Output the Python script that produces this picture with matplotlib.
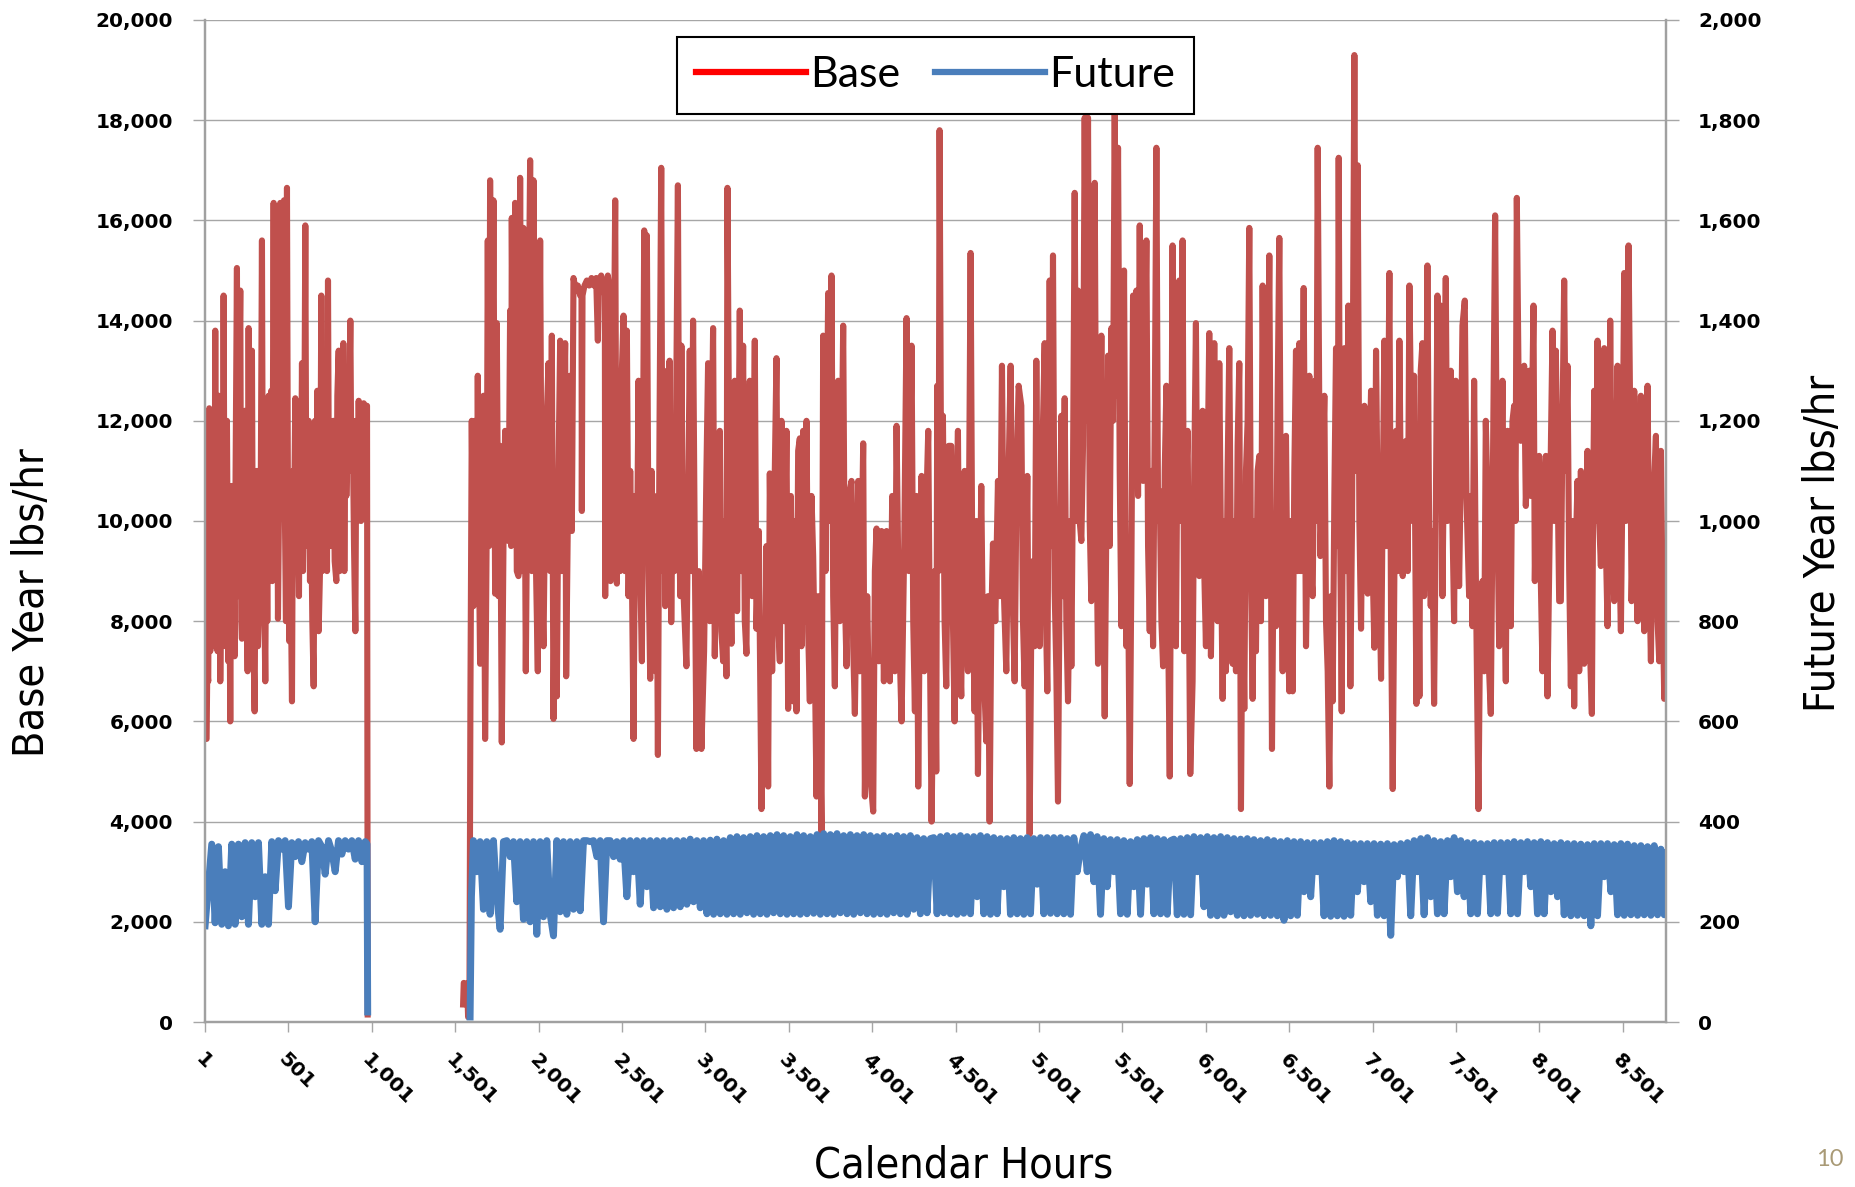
import matplotlib
matplotlib.use('Agg')
import matplotlib.pyplot as plt
from matplotlib.lines import Line2D
from matplotlib.ticker import FuncFormatter
from matplotlib import font_manager
import numpy as np

# Base year steam use (lbs/hr) as (hour, value) pairs
base_jan_feb = [(1, 6800), (4, 5650), (10, 5650), (14, 7000), (20, 6800), (26, 12250), (32, 7400), (38, 12000),
    (44, 8000), (50, 9500), (56, 7500), (62, 13800), (68, 8500), (76, 7400), (84, 12500), (92, 6800),
    (100, 9500), (106, 8000), (112, 14500), (118, 9000), (124, 7500), (132, 12000), (140, 7200), (146, 9500),
    (152, 6000), (158, 10000), (162, 10700), (166, 7500), (172, 9000), (178, 7300), (184, 11000), (192, 15050),
    (198, 8500), (204, 12000), (212, 14600), (218, 8000), (222, 7650), (230, 10500), (238, 12200), (244, 8500),
    (250, 9000), (256, 7000), (262, 13850), (268, 9000), (276, 7300), (282, 13400), (288, 8200), (298, 6200),
    (304, 10000), (312, 11000), (318, 7500), (326, 8500), (334, 10000), (342, 15600), (348, 9000), (356, 8500),
    (362, 6800), (368, 10500), (374, 8000), (382, 12500), (392, 9500), (398, 12600), (404, 8800), (412, 16350),
    (418, 9500), (424, 10500), (432, 13500), (438, 8050), (446, 11000), (452, 16350), (458, 10500), (466, 12000),
    (474, 16400), (480, 10000), (486, 8000), (492, 16650), (498, 10000), (506, 7600), (514, 9000), (522, 6400),
    (528, 11000), (536, 10500), (542, 12450), (548, 9000), (556, 10200), (564, 8500), (570, 12000), (576, 10500),
    (582, 13150), (588, 9000), (596, 11500), (602, 15900), (608, 10000), (616, 9500), (622, 12000), (630, 8800),
    (636, 10500), (644, 8000), (652, 6700), (660, 12000), (666, 8500), (674, 12600), (682, 7800), (690, 9000),
    (698, 14500), (704, 9000), (710, 12000), (718, 10000), (726, 12500), (732, 9000), (738, 14800), (744, 10000),
    (750, 12000), (756, 9500), (762, 10000), (770, 12000), (778, 9200), (788, 8800), (794, 12500), (802, 13400),
    (808, 9000), (814, 11500), (822, 10500), (830, 13550), (836, 9000), (842, 12000), (848, 10500), (856, 11500),
    (864, 12000), (872, 14000), (878, 11000), (886, 12000), (894, 9500), (902, 7800), (908, 12000), (914, 10000),
    (922, 12400), (930, 10500), (936, 10000), (944, 12200), (952, 12350), (958, 10050), (966, 12300), (972, 12300),
    (976, 150)]

base_mar_apr = [(1548, 350), (1552, 780), (1572, 760), (1578, 100), (1586, 300), (1592, 6500),
    (1600, 12000), (1610, 8300), (1620, 12000), (1630, 9000), (1636, 12900), (1644, 9000), (1650, 7150),
    (1660, 11000), (1670, 12500), (1680, 5650), (1690, 10000), (1696, 15600), (1704, 9500), (1710, 16800),
    (1720, 10000), (1730, 16400), (1740, 8550), (1750, 13950), (1760, 8500), (1770, 11500), (1780, 5580),
    (1790, 9500), (1800, 11800), (1820, 9600), (1830, 14200), (1836, 9500), (1840, 16050), (1850, 10000),
    (1860, 16350), (1870, 9000), (1880, 8900), (1890, 16850), (1900, 9000), (1910, 15850), (1924, 7000),
    (1936, 12000), (1950, 17200), (1960, 9000), (1970, 16800), (1980, 10000), (1996, 7000), (2010, 15600),
    (2020, 9000), (2030, 7500), (2044, 11500), (2060, 13150), (2070, 9000), (2080, 13700), (2090, 6050),
    (2100, 10000), (2110, 6500), (2120, 11000), (2130, 13600), (2140, 9000), (2150, 11500), (2160, 13550),
    (2166, 6900), (2176, 10000), (2190, 12900), (2200, 9800), (2210, 14850), (2224, 14600), (2236, 14700),
    (2250, 14500), (2258, 14600), (2260, 10200), (2264, 14500), (2276, 14700), (2290, 14800), (2304, 14700),
    (2318, 14850), (2332, 14700), (2346, 14850), (2356, 13600), (2362, 14800), (2376, 14900), (2390, 14700),
    (2398, 14500), (2400, 8500), (2404, 14000), (2416, 14900), (2428, 14600), (2432, 8800), (2438, 14300),
    (2446, 10000), (2452, 13000), (2460, 16400), (2466, 11000), (2470, 8750), (2480, 12500), (2490, 9000),
    (2500, 13000), (2510, 14100), (2518, 9000), (2530, 13800), (2540, 8500), (2550, 11000), (2560, 9000),
    (2570, 5650), (2580, 10500), (2590, 9000), (2600, 12800), (2610, 9000), (2620, 7200), (2628, 12000),
    (2634, 15800), (2642, 11000), (2650, 15700), (2660, 9000), (2670, 6850), (2678, 11000), (2686, 8000),
    (2694, 10500), (2702, 7000), (2710, 9000), (2716, 5330), (2726, 12000), (2736, 17050), (2744, 9000),
    (2752, 13000), (2760, 8300), (2768, 11500), (2778, 9000), (2786, 13200), (2796, 7980), (2806, 11000),
    (2816, 9000), (2826, 12500), (2836, 16700), (2844, 10000), (2850, 8500)]

base_may_jun = [(2857, 13500), (2867, 8800), (2887, 7100), (2907, 13400), (2917, 9000), (2927, 14000),
    (2937, 9500), (2947, 5450), (2961, 9000), (2977, 5450), (2993, 7400), (3007, 11000), (3017, 13150),
    (3027, 8000), (3047, 13850), (3057, 7300), (3073, 10500), (3087, 11800), (3097, 7800), (3107, 7200),
    (3117, 10000), (3127, 6900), (3133, 16650), (3147, 9500), (3157, 7550), (3167, 11000), (3177, 12800),
    (3191, 8200), (3207, 14200), (3217, 9000), (3227, 13500), (3237, 8000), (3247, 7350), (3257, 11500),
    (3267, 12800), (3281, 8500), (3297, 13600), (3307, 7850), (3321, 9800), (3337, 4250), (3347, 8000),
    (3357, 6300), (3367, 9500), (3377, 4700), (3387, 10950), (3401, 7000), (3417, 11000), (3427, 13250),
    (3437, 8000), (3447, 7200), (3457, 12000), (3473, 8000), (3487, 11800), (3497, 6250), (3513, 10500),
    (3527, 6400), (3537, 10000), (3547, 6200), (3557, 11400), (3567, 11650), (3577, 7500), (3587, 11800),
    (3597, 8000), (3607, 12000), (3617, 7800), (3627, 6400), (3637, 10500), (3647, 9300), (3657, 7200),
    (3667, 4500), (3677, 8500), (3697, 3800), (3707, 13700), (3721, 9000), (3737, 14550), (3747, 10000),
    (3757, 14900), (3767, 8500), (3777, 6700), (3787, 11000), (3797, 12800), (3807, 8000), (3827, 13900),
    (3837, 8500), (3847, 7100), (3861, 10500), (3877, 10800), (3887, 7500), (3897, 6150), (3917, 10800),
    (3927, 7000), (3947, 11550), (3957, 4500), (3971, 8500), (3987, 5000), (4007, 4200), (4017, 9000),
    (4027, 9850), (4041, 7200), (4057, 9800), (4071, 6800), (4087, 9800), (4097, 7500), (4107, 6800),
    (4121, 10500), (4137, 7000), (4147, 11900), (4161, 8000), (4177, 6000), (4193, 9500), (4207, 14050),
    (4221, 9000), (4237, 13500), (4247, 8000), (4257, 6200), (4267, 10500), (4277, 4700), (4287, 8500),
    (4297, 10900), (4313, 7000), (4327, 10500), (4337, 11800), (4347, 7500), (4357, 4000)]

base_jul_aug = [(4375, 9000), (4385, 5000), (4391, 12700), (4399, 9000), (4405, 17800), (4415, 10000),
    (4425, 12100), (4435, 8000), (4445, 6700), (4459, 11500), (4475, 11500), (4485, 8000), (4495, 6000),
    (4505, 10000), (4515, 11800), (4525, 7500), (4535, 6500), (4545, 10500), (4555, 11000), (4565, 7800),
    (4575, 7000), (4591, 15350), (4601, 9000), (4615, 6200), (4625, 10000), (4635, 4950), (4645, 8000),
    (4655, 10700), (4665, 7500), (4685, 5600), (4695, 8500), (4705, 4000), (4715, 8000), (4725, 9550),
    (4739, 8000), (4755, 10800), (4767, 8500), (4779, 13100), (4791, 8500), (4805, 7000), (4819, 11000),
    (4831, 13100), (4843, 8500), (4855, 6800), (4867, 11000), (4879, 12700), (4895, 12300), (4905, 8000),
    (4915, 6700), (4931, 10900), (4945, 3750), (4955, 8000), (4965, 9200), (4975, 7500), (4985, 13200),
    (4995, 9000), (5005, 7500), (5019, 11000), (5035, 13550), (5043, 8000), (5051, 6600), (5065, 14800),
    (5075, 9500), (5085, 15300), (5095, 8600), (5105, 7000), (5115, 4400), (5125, 9000), (5135, 12100),
    (5145, 8500), (5155, 12450), (5165, 8000), (5175, 6400), (5189, 10000), (5195, 7100), (5205, 11000),
    (5215, 16550), (5225, 10000), (5235, 14600), (5245, 10000), (5255, 9600), (5265, 11500), (5275, 18050),
    (5285, 12000), (5295, 18050), (5305, 10000), (5315, 8400), (5325, 11500), (5335, 16750), (5345, 10000),
    (5355, 7150), (5365, 10500), (5375, 13700), (5385, 9000), (5395, 6100), (5405, 10000), (5415, 13300),
    (5425, 9500), (5435, 13850), (5445, 12000), (5455, 18400), (5465, 12500), (5475, 17450), (5485, 11000),
    (5495, 7900), (5503, 12000), (5511, 15000), (5519, 10000), (5525, 7500), (5535, 9000), (5545, 4750),
    (5555, 9000), (5565, 14500), (5575, 11000), (5585, 14600), (5595, 10500), (5605, 15900), (5615, 11000),
    (5625, 10800), (5635, 13000), (5645, 15600), (5655, 9500), (5665, 7800), (5675, 11000), (5685, 7500),
    (5695, 12000), (5705, 17450), (5715, 10000), (5725, 10600), (5735, 8000), (5745, 7100), (5755, 11000),
    (5765, 12700), (5775, 8000), (5785, 4900)]

base_sep_oct = [(5802, 15500), (5812, 9000), (5822, 7500), (5832, 12000), (5842, 14800), (5852, 10000),
    (5862, 15600), (5872, 7400), (5882, 10500), (5892, 11800), (5908, 4950), (5922, 6800), (5932, 11000),
    (5942, 13950), (5952, 9000), (5962, 8900), (5972, 11500), (5982, 12200), (5992, 9000), (6002, 7500),
    (6012, 11000), (6022, 13750), (6032, 7300), (6042, 10000), (6052, 13550), (6062, 9000), (6072, 8000),
    (6082, 13150), (6092, 9500), (6102, 6450), (6112, 10000), (6122, 7000), (6132, 11000), (6142, 13450),
    (6152, 9000), (6162, 7150), (6172, 10000), (6182, 7000), (6192, 11500), (6202, 13150), (6212, 4250),
    (6222, 9000), (6232, 6250), (6242, 11000), (6252, 12000), (6262, 15850), (6272, 9000), (6282, 6450),
    (6292, 10000), (6302, 7400), (6312, 11000), (6322, 11300), (6332, 8000), (6342, 14700), (6352, 10000),
    (6362, 8500), (6372, 12000), (6382, 15300), (6392, 9000), (6398, 5450), (6408, 9500), (6422, 7900),
    (6432, 12500), (6442, 15650), (6452, 9500), (6462, 7000), (6472, 10500), (6482, 11700), (6492, 8000),
    (6502, 6600), (6512, 10000), (6522, 6600), (6532, 11000), (6542, 13400), (6552, 9000), (6562, 13550),
    (6572, 9000), (6588, 14650), (6602, 7500), (6612, 10000), (6622, 12900), (6632, 9000), (6642, 8500),
    (6652, 12000), (6656, 12800), (6664, 10000), (6672, 17450), (6682, 12000), (6688, 9300), (6702, 11000),
    (6712, 12500), (6722, 8000), (6732, 7000), (6742, 4700), (6752, 8500), (6762, 6400), (6772, 10500),
    (6782, 13450), (6792, 9500), (6798, 17250), (6806, 10000), (6816, 6200), (6824, 11000), (6832, 13450),
    (6842, 9000), (6856, 14300), (6862, 9000), (6868, 6700), (6878, 10000), (6892, 19300), (6902, 11000),
    (6912, 17100), (6922, 10000), (6932, 7850), (6942, 11000), (6952, 12300), (6962, 9000), (6972, 8550),
    (6982, 11000), (6992, 12600), (7002, 9000), (7012, 7470), (7022, 13400), (7032, 10000), (7042, 9000),
    (7052, 6850), (7062, 10500), (7072, 13600), (7082, 9500), (7092, 11000), (7102, 14950), (7112, 8000),
    (7122, 4650), (7132, 9000), (7142, 11800), (7152, 9000), (7162, 13600), (7172, 10000), (7182, 8900),
    (7192, 11000), (7202, 11600), (7212, 9000), (7222, 14700)]

base_nov_dec = [(7240, 10000), (7250, 12900), (7264, 6350), (7274, 10000), (7282, 6500), (7290, 13000),
    (7300, 13550), (7310, 8500), (7320, 10000), (7330, 15100), (7340, 10000), (7350, 8300), (7360, 9800),
    (7370, 6350), (7380, 10000), (7390, 14500), (7400, 11500), (7410, 14300), (7420, 8500), (7430, 11500),
    (7440, 14850), (7450, 10000), (7460, 11000), (7470, 13000), (7480, 10000), (7490, 8000), (7500, 12800),
    (7510, 11000), (7520, 8700), (7530, 11000), (7540, 13900), (7554, 14400), (7564, 10500), (7580, 8500),
    (7590, 10500), (7600, 7900), (7610, 12800), (7620, 9000), (7630, 6000), (7636, 4250), (7646, 8000),
    (7660, 8800), (7670, 7000), (7680, 12000), (7690, 10500), (7700, 7000), (7710, 6150), (7720, 10000),
    (7736, 16100), (7746, 11000), (7760, 7500), (7770, 10000), (7780, 12800), (7790, 9000), (7800, 6800),
    (7810, 11800), (7820, 9500), (7830, 7900), (7840, 12000), (7850, 12300), (7858, 10000), (7866, 16450),
    (7876, 13000), (7890, 11600), (7900, 12500), (7910, 13100), (7920, 10300), (7930, 11500), (7940, 13000),
    (7950, 10500), (7966, 14300), (7974, 8800), (7984, 11000), (8000, 11300), (8010, 8800), (8020, 7000),
    (8030, 10500), (8040, 11300), (8050, 6500), (8064, 10000), (8080, 13800), (8090, 10000), (8100, 13400),
    (8110, 11000), (8120, 8400), (8130, 8400), (8140, 12000), (8150, 14800), (8160, 11000), (8170, 13100),
    (8180, 9000), (8190, 6700), (8200, 10000), (8210, 6300), (8220, 9500), (8230, 10800), (8240, 7000),
    (8250, 11000), (8260, 8000), (8270, 7150), (8280, 10000), (8290, 11400), (8300, 8000), (8310, 6800),
    (8316, 6150), (8324, 10500), (8330, 12600), (8340, 10000), (8350, 13600), (8360, 10000), (8370, 9100),
    (8380, 11000), (8390, 13450), (8400, 9500), (8410, 7900), (8420, 11000), (8426, 14000), (8436, 10000),
    (8450, 8400), (8460, 11000), (8470, 13100), (8480, 9500), (8490, 7800), (8500, 11000), (8510, 14950),
    (8520, 10000), (8536, 15500), (8546, 12000), (8554, 8400), (8564, 10000), (8570, 12600), (8580, 9000),
    (8590, 8000), (8600, 11000), (8610, 12500), (8620, 9000), (8630, 7800), (8640, 10000), (8650, 12700),
    (8660, 9000), (8670, 7200), (8680, 10000), (8700, 11700), (8710, 8000), (8720, 7200), (8730, 11400),
    (8740, 8500), (8750, 6450), (8760, 9400)]

# Future year (lbs/hr, right axis), one reading every 20 hours from each start hour
fut_jan_start = 1
fut_jan = [192, 274, 355, 198, 350, 195, 300, 192, 355, 195,
           355, 210, 358, 195, 358, 250, 358, 195, 290, 195,
           360, 262, 362, 345, 362, 230, 358, 330, 360, 320,
           358, 345, 360, 200, 362, 350, 295, 362, 340, 300,
           362, 335, 362, 345, 362, 325, 362, 320, 360]
fut_jan_end = [(972, 355), (976, 20)]
fut_mar_lead = [(1590, 10), (1598, 250)]
fut_mar_start = 1610
fut_mar = [362, 300, 360, 225, 360, 215, 362, 250, 185, 360,
           362, 330, 360, 240, 360, 205, 360, 200, 360, 175,
           360, 210, 362, 215, 172, 362, 220, 360, 215, 360,
           225, 360, 222, 362, 362, 360, 362, 330, 362, 200,
           362, 362, 330, 360, 325, 362, 250, 362, 300, 362,
           235, 362, 270, 362, 228, 362, 230, 362, 225, 362,
           228, 362, 230, 362, 235]
fut_may_start = 2910
fut_may = [365, 240, 362, 228, 362, 216, 363, 215, 365, 216,
           362, 215, 368, 216, 370, 215, 368, 218, 370, 215,
           372, 216, 370, 215, 372, 218, 374, 216, 372, 215,
           370, 216, 374, 215, 372, 216, 370, 217, 374, 215,
           376, 216, 374, 215, 376, 218, 372, 216, 374, 215,
           372, 218, 374, 216, 372, 215, 370, 216, 372, 215,
           370, 218, 372, 216, 370, 215, 372, 225, 368, 216,
           366, 218, 366]
fut_jul_start = 4370
fut_jul = [368, 216, 370, 218, 372, 216, 370, 215, 372, 217,
           370, 216, 370, 250, 372, 216, 370, 215, 368, 216,
           366, 270, 366, 215, 368, 216, 366, 215, 368, 216,
           366, 275, 368, 216, 368, 217, 368, 216, 368, 216,
           366, 215, 368, 300, 345, 372, 300, 374, 280, 370,
           215, 366, 270, 364, 300, 364, 216, 362, 215, 360,
           270, 364, 215, 366, 275, 368, 216, 366, 216, 364,
           215, 362]
fut_sep_start = 5810
fut_sep = [365, 214, 366, 215, 368, 214, 370, 300, 368, 230,
           370, 213, 368, 212, 370, 213, 368, 220, 366, 213,
           365, 212, 366, 213, 364, 215, 362, 212, 364, 213,
           362, 212, 360, 203, 362, 212, 360, 213, 360, 260,
           358, 250, 358, 300, 358, 212, 360, 211, 362, 212,
           360, 211, 358, 213, 356, 260, 356, 280, 356, 240,
           356, 213, 355, 212, 356, 173, 354, 290, 356, 300,
           358, 212]
fut_nov_start = 7250
fut_nov = [362, 300, 366, 214, 368, 250, 362, 216, 360, 216,
           362, 290, 368, 260, 362, 250, 358, 216, 358, 216,
           356, 300, 356, 216, 358, 217, 358, 300, 358, 216,
           360, 216, 358, 300, 360, 270, 358, 216, 360, 216,
           358, 260, 356, 250, 358, 214, 356, 212, 356, 213,
           355, 212, 354, 192, 356, 212, 356, 290, 356, 260,
           354, 214, 356, 213, 355, 214, 352, 213, 352, 214,
           350, 213, 352, 214, 345, 214]
fut_nov_end = [(8760, 337)]

hour_ticks = list(range(1, 8761, 500))


def pairs(p):
    return [h for h, v in p], [v for h, v in p]


def stepped(start, vals):
    return [start + 20 * i for i in range(len(vals))], list(vals)


# base series, with a break where the data is missing
bx, by = [], []
for part in [base_jan_feb, [(1200, np.nan)], base_mar_apr, base_may_jun, base_jul_aug, base_sep_oct, base_nov_dec]:
    h, v = pairs(part)
    bx += h
    by += v

fx, fy = [], []
for h, v in [stepped(fut_jan_start, fut_jan), pairs(fut_jan_end), pairs([(1200, np.nan)]),
             pairs(fut_mar_lead), stepped(fut_mar_start, fut_mar), stepped(fut_may_start, fut_may),
             stepped(fut_jul_start, fut_jul), stepped(fut_sep_start, fut_sep),
             stepped(fut_nov_start, fut_nov), pairs(fut_nov_end)]:
    fx += h
    fy += v

# condensed face for the axis titles if one is installed
condensed = any(f.name == 'DejaVu Sans' and f.stretch == 'condensed' for f in font_manager.fontManager.ttflist)
title_font = dict(family='DejaVu Sans', stretch='condensed', fontsize=31) if condensed else dict(family='DejaVu Sans', fontsize=27.5)

RED = '#C0504D'
BLUE = '#4A7EBB'
GRID = '#A6A6A6'

fig = plt.figure(figsize=(18.55, 11.87), dpi=100)
ax = fig.add_axes([205 / 1855, 1 - 1022 / 1187, 1461 / 1855, 1002 / 1187])
ax2 = ax.twinx()

ax.plot(bx, by, color=RED, lw=4.4)
ax2.plot(fx, fy, color=BLUE, lw=5.0)

ax.set_xlim(0.5, 8760.5)
ax.set_ylim(0, 20000)
ax2.set_ylim(0, 2000)
ax.set_yticks(range(0, 20001, 2000))
ax2.set_yticks(range(0, 2001, 200))
ax.yaxis.set_major_formatter(FuncFormatter(lambda v, p: f'{int(v):,}'))
ax2.yaxis.set_major_formatter(FuncFormatter(lambda v, p: f'{int(v):,}'))
ax.set_xticks(hour_ticks)
ax.set_xticklabels([f'{t:,}' for t in hour_ticks], rotation=-45, ha='left', va='top',
                   rotation_mode='anchor', fontweight='bold', fontsize=14.5)

ax.grid(axis='y', color=GRID, lw=1)
ax.set_axisbelow(True)
for a in (ax, ax2):
    a.spines['top'].set_visible(False)
    for s in ('left', 'right', 'bottom'):
        a.spines[s].set_color('#A0A0A0')
        a.spines[s].set_linewidth(1.6)
ax.tick_params(axis='y', length=9, width=1, color=GRID, pad=14, labelsize=14.5)
ax2.tick_params(axis='y', length=9, width=1, color=GRID, pad=14, labelsize=14.5)
ax.tick_params(axis='x', length=7, width=1, color=GRID, pad=13)
for lab in ax.get_yticklabels() + ax2.get_yticklabels():
    lab.set_fontweight('bold')

fig.text(32 / 1855, 1 - 603 / 1187, 'Base Year lbs/hr', rotation=90, ha='center', va='center', **title_font)
fig.text(1823 / 1855, 1 - 543 / 1187, 'Future Year lbs/hr', rotation=90, ha='center', va='center', **title_font)
fig.text(964 / 1855, 1 - 1166 / 1187, 'Calendar Hours', ha='center', va='center', **title_font)
fig.text(1830 / 1855, 1 - 1159 / 1187, '10', ha='center', va='center', fontsize=17,
         color='#A99A76', family='Lato')

handles = [Line2D([], [], color='#FF0000', lw=4.5), Line2D([], [], color=BLUE, lw=4.5)]
leg = fig.legend(handles, ['Base', 'Future'], loc='upper left', bbox_to_anchor=(677 / 1855, 1 - 37 / 1187),
                 ncol=2, frameon=True, fancybox=False, edgecolor='black',
                 handlelength=2.55, columnspacing=0.8, handletextpad=0.1, borderpad=0.45,
                 borderaxespad=0, prop={'family': 'Lato', 'size': 31})
leg.get_frame().set_linewidth(1.5)
leg.get_frame().set_alpha(1)

fig.savefig('out.png', dpi=100)
